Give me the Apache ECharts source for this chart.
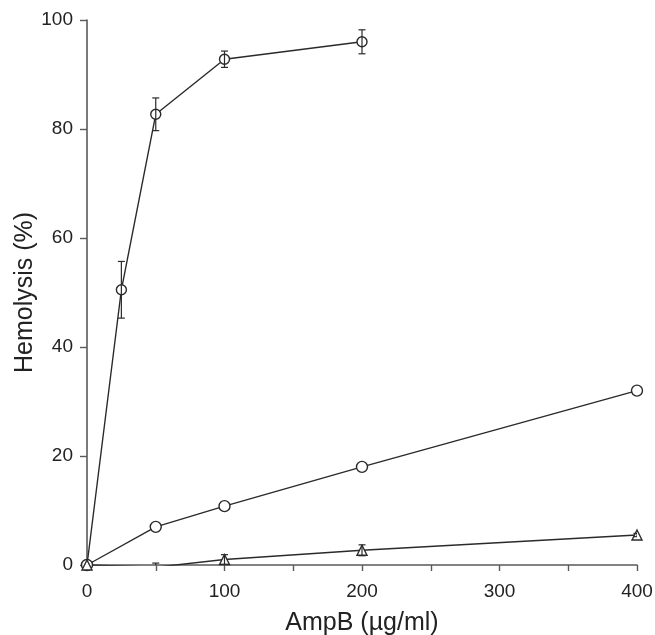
<!DOCTYPE html>
<html>
<head>
<meta charset="utf-8">
<script src="https://cdn.jsdelivr.net/npm/echarts@6/dist/echarts.min.js"></script>
<style>
html,body{margin:0;padding:0;background:#fff;}
#c{width:655px;height:635px;}
</style>
</head>
<body>
<div id="c"></div>
<script>
// Data
const xTop = [0, 25, 50, 100, 200];
const yTop = [0, 50.5, 82.7, 92.8, 96.0];
const errTop = [0, 5.2, 3.0, 1.5, 2.2];

const xMid = [0, 50, 100, 200, 400];
const yMid = [0, 7.0, 10.8, 18.0, 32.0];
const errMid = [0, 0.6, 0.3, 0.4, 0.3];

const xTri = [0, 50, 100, 200, 400];
const yTri = [0, -0.4, 1.0, 2.7, 5.5];
const errTri = [0, 0.75, 0.9, 1.0, 0.3];

const xTicks = [0, 100, 200, 300, 400];
const yTicks = [0, 20, 40, 60, 80, 100];

const xName = 'AmpB (µg/ml)';
const yName = 'Hemolysis (%)';

const FONT = 'Liberation Sans, Arial, Helvetica, sans-serif';
const LINE = '#2a2a2a';
const AXIS = '#5a5a5a';

function pts(xs, ys) { return xs.map((x, i) => [x, ys[i]]); }
function errData(xs, ys, es) { return xs.map((x, i) => [x, ys[i] - es[i], ys[i] + es[i]]); }

function errRender(params, api) {
  const x = api.value(0), lo = api.value(1), hi = api.value(2);
  if (hi - lo <= 0) return;
  const p1 = api.coord([x, lo]);
  const p2 = api.coord([x, hi]);
  const w = 3.5;
  const style = { stroke: LINE, lineWidth: 1.2, fill: null };
  return {
    type: 'group',
    children: [
      { type: 'line', shape: { x1: p1[0], y1: p1[1], x2: p2[0], y2: p2[1] }, style },
      { type: 'line', shape: { x1: p1[0] - w, y1: p1[1], x2: p1[0] + w, y2: p1[1] }, style },
      { type: 'line', shape: { x1: p2[0] - w, y1: p2[1], x2: p2[0] + w, y2: p2[1] }, style }
    ]
  };
}

function lineSeries(data, symbol, size) {
  return {
    type: 'line', data, symbol, symbolSize: size, showAllSymbol: true,
    clip: true, z: 2,
    lineStyle: { color: LINE, width: 1.4 },
    itemStyle: { color: '#ffffff', borderColor: LINE, borderWidth: 1.4 },
    animation: false
  };
}
function errSeries(data, z) {
  return { type: 'custom', data, renderItem: errRender, clip: true, z, animation: false };
}

const chart = echarts.init(document.getElementById('c'), null, { renderer: 'canvas' });
chart.setOption({
  backgroundColor: '#ffffff',
  animation: false,
  grid: { left: 87, right: 18, top: 20, bottom: 70, containLabel: false, outerBoundsMode: 'none' },
  xAxis: {
    type: 'value', min: 0, max: 400, interval: 50,
    name: xName, nameLocation: 'middle', nameGap: 46, nameMoveOverlap: false,
    nameTextStyle: { fontFamily: FONT, fontSize: 25, color: '#222' },
    axisLine: { show: true, onZero: false, lineStyle: { color: AXIS, width: 1.6 } },
    axisTick: { show: true, length: 6, lineStyle: { color: AXIS, width: 1.4 } },
    axisLabel: {
      fontFamily: FONT, fontSize: 19, color: '#222', margin: 17,
      formatter: v => (xTicks.indexOf(v) >= 0 ? String(v) : '')
    },
    splitLine: { show: false }
  },
  yAxis: {
    type: 'value', min: 0, max: 100, interval: 20,
    name: yName, nameLocation: 'middle', nameGap: 49, nameMoveOverlap: false,
    nameTextStyle: { fontFamily: FONT, fontSize: 25, color: '#222' },
    axisLine: { show: true, onZero: false, lineStyle: { color: AXIS, width: 1.6 } },
    axisTick: { show: true, length: 7, lineStyle: { color: AXIS, width: 1.4 } },
    axisLabel: {
      fontFamily: FONT, fontSize: 19, color: '#222', margin: 14,
      formatter: v => (yTicks.indexOf(v) >= 0 ? String(v) : '')
    },
    splitLine: { show: false }
  },
  series: [
    lineSeries(pts(xTop, yTop), 'circle', 10),
    errSeries(errData(xTop, yTop, errTop), 3),
    lineSeries(pts(xMid, yMid), 'circle', 11),
    errSeries(errData(xMid, yMid, errMid), 1),
    lineSeries(pts(xTri, yTri), 'triangle', 10),
    errSeries(errData(xTri, yTri, errTri), 3)
  ]
});
</script>
</body>
</html>
